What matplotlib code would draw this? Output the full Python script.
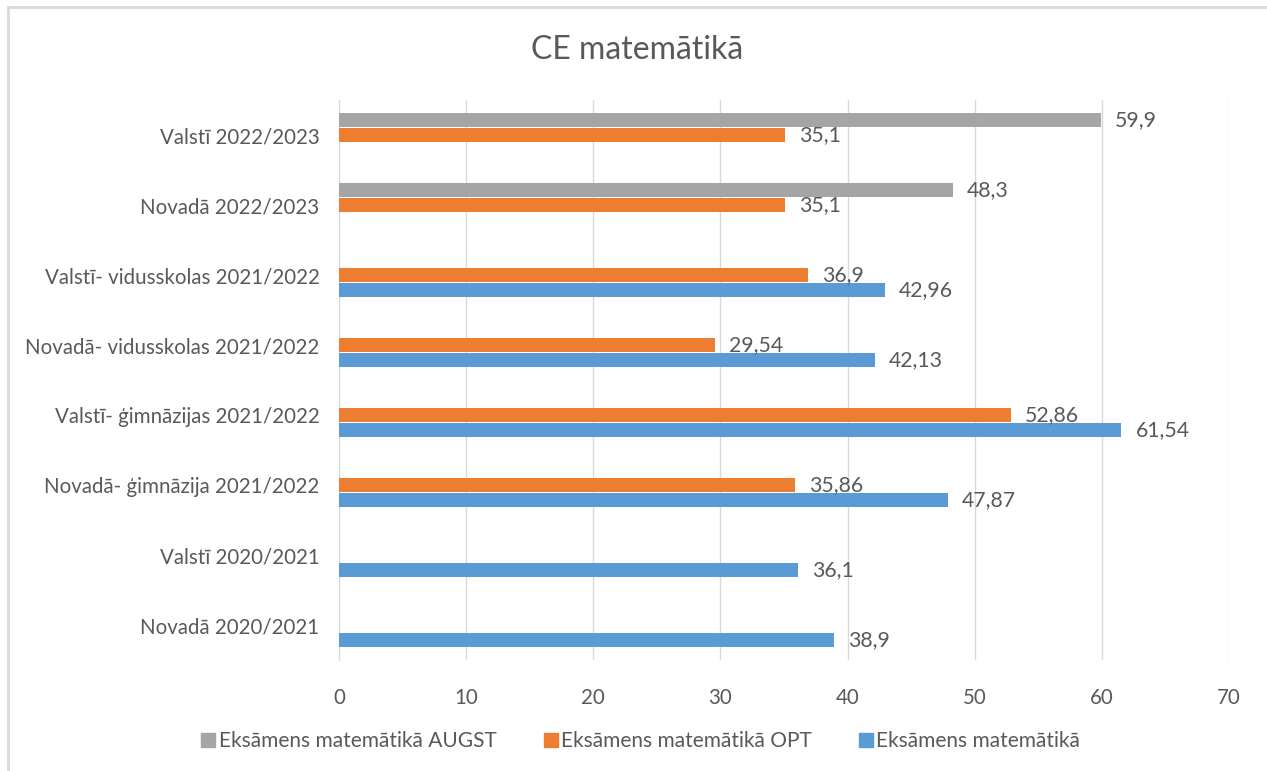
import numpy as np
import matplotlib.pyplot as plt
from matplotlib.lines import Line2D

categories = [
    "Novadā 2020/2021",
    "Valstī 2020/2021",
    "Novadā- ģimnāzija 2021/2022",
    "Valstī- ģimnāzijas 2021/2022",
    "Novadā- vidusskolas 2021/2022",
    "Valstī- vidusskolas 2021/2022",
    "Novadā 2022/2023",
    "Valstī 2022/2023",
]
exam_basic = [38.9, 36.1, 47.87, 61.54, 42.13, 42.96, None, None]
exam_opt = [None, None, 35.86, 52.86, 29.54, 36.9, 35.1, 35.1]
exam_augst = [None, None, None, None, None, None, 48.3, 59.9]

series = [
    ("Eksāmens matemātikā", exam_basic, "#5B9BD5", -1),
    ("Eksāmens matemātikā OPT", exam_opt, "#ED7D31", 0),
    ("Eksāmens matemātikā AUGST", exam_augst, "#A5A5A5", 1),
]

TEXT = "#595959"
plt.rcParams['font.family'] = ['Lato', 'DejaVu Sans']

fig = plt.figure(figsize=(12.67, 7.71), dpi=100)
W, H = 1267, 771
ax = fig.add_axes([339 / W, 1 - 660 / H, (1229 - 339) / W, 560 / H])

bar_h = 0.21
offset = 0.215
y = np.arange(len(categories))

for name, vals, color, k in series:
    for i, v in enumerate(vals):
        if v is None:
            continue
        ax.barh(y[i] + k * offset, v, height=bar_h, color=color, zorder=3)
        ax.text(v + 1.1, y[i] + k * offset, f"{v:g}".replace(".", ","),
                va='center', ha='left', fontsize=15.3, color=TEXT, zorder=4)

ax.set_xlim(0, 70)
ax.set_ylim(-0.5, len(categories) - 0.5)
ax.set_xticks(range(0, 71, 10))
ax.set_yticks(y)
ax.set_yticklabels(categories)
ax.tick_params(axis='both', length=0, labelsize=14.8, colors=TEXT)
ax.tick_params(axis='y', pad=14)
ax.tick_params(axis='x', pad=20)
ax.grid(axis='x', color='#D9D9D9', linewidth=1, zorder=0)
for s in ['top', 'right', 'bottom']:
    ax.spines[s].set_visible(False)
ax.spines['left'].set_color('#D9D9D9')

fig.text(637 / W, 1 - 50 / H, "CE matemātikā", ha='center', va='center',
         fontsize=23, color=TEXT)

handles = [Line2D([], [], marker='s', linestyle='none', markersize=10,
                  color=c, markeredgecolor=c) for _, _, c, _ in series[::-1]]
labels = [n for n, _, _, _ in series[::-1]]
fig.legend(handles, labels, loc='center', bbox_to_anchor=(640 / W, 1 - 741 / H),
           ncol=3, frameon=False, fontsize=15, labelcolor=TEXT,
           handletextpad=0.1, columnspacing=2.2, handlelength=0.8)

# chart frame (top and left edges visible)
fig.add_artist(Line2D([8 / W, 1], [1 - 7 / H, 1 - 7 / H], color='#D9D9D9', linewidth=2))
fig.add_artist(Line2D([8 / W, 8 / W], [0, 1 - 7 / H], color='#D9D9D9', linewidth=2))

fig.savefig("out.png", dpi=100, facecolor='white')
